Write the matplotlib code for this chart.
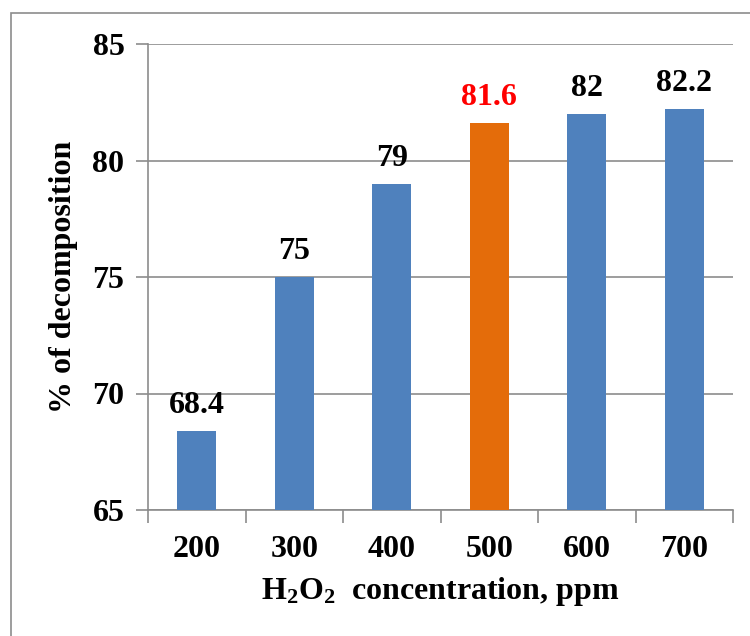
import matplotlib
matplotlib.use("Agg")
import matplotlib.pyplot as plt
from matplotlib.patches import Rectangle

# datos del grafico
concentraciones = ["200", "300", "400", "500", "600", "700"]
descomposicion = [68.4, 75, 79, 81.6, 82, 82.2]
resaltado = "500"

azul = "#4F81BD"
naranja = "#E46C0A"

plt.rcParams["font.family"] = ["Liberation Serif", "DejaVu Serif"]
plt.rcParams["font.weight"] = "bold"
plt.rcParams["mathtext.fontset"] = "custom"
plt.rcParams["mathtext.rm"] = "Liberation Serif:bold"
plt.rcParams["mathtext.bf"] = "Liberation Serif:bold"
plt.rcParams["mathtext.it"] = "Liberation Serif:bold"

tam = 23

fig = plt.figure(figsize=(7.5, 6.36), dpi=100)
ax = fig.add_axes([148 / 750, 126 / 636, 585 / 750, 466 / 636])

# borde del grafico
fig.patches.append(Rectangle((11 / 750, -0.05), 1.0, (636 - 13) / 636 + 0.05,
                             transform=fig.transFigure, fill=False,
                             edgecolor="#8C8C8C", linewidth=1.2))

posiciones = list(range(len(concentraciones)))
colores = [naranja if c == resaltado else azul for c in concentraciones]
barras = ax.bar(posiciones, [v - 65 for v in descomposicion], bottom=65,
                width=0.4, color=colores, zorder=3)

etiquetas = ax.bar_label(barras, labels=[f"{v:g}" for v in descomposicion],
                         padding=8, fontsize=tam, fontweight="bold")
for et, c in zip(etiquetas, concentraciones):
    if c == resaltado:
        et.set_color("#FF0000")

ax.set_ylim(65, 85)
ax.set_xlim(-0.5, len(concentraciones) - 0.5)
ax.set_yticks([65, 70, 75, 80, 85])
ax.yaxis.grid(True, color="#8C8C8C", linewidth=1.2, zorder=0)
ax.set_axisbelow(True)

ax.set_xticks(posiciones)
ax.set_xticklabels(concentraciones)
ax.set_xticks([p - 0.5 for p in posiciones] + [len(posiciones) - 0.5], minor=True)
ax.tick_params(axis="x", which="major", length=0, pad=18, labelsize=tam)
ax.tick_params(axis="x", which="minor", length=9, color="#8C8C8C", width=1.2)
ax.tick_params(axis="y", length=9, color="#8C8C8C", width=1.2, pad=8, labelsize=tam)

for lado in ["top", "right"]:
    ax.spines[lado].set_visible(False)
for lado in ["left", "bottom"]:
    ax.spines[lado].set_color("#8C8C8C")
    ax.spines[lado].set_linewidth(1.2)

ax.set_ylabel("% of decomposition", fontsize=tam, fontweight="bold", labelpad=10)
ax.set_xlabel(r"H$_2$O$_2$  concentration, ppm", fontsize=tam,
              fontweight="bold", labelpad=8)

fig.savefig("out.png", dpi=100)
